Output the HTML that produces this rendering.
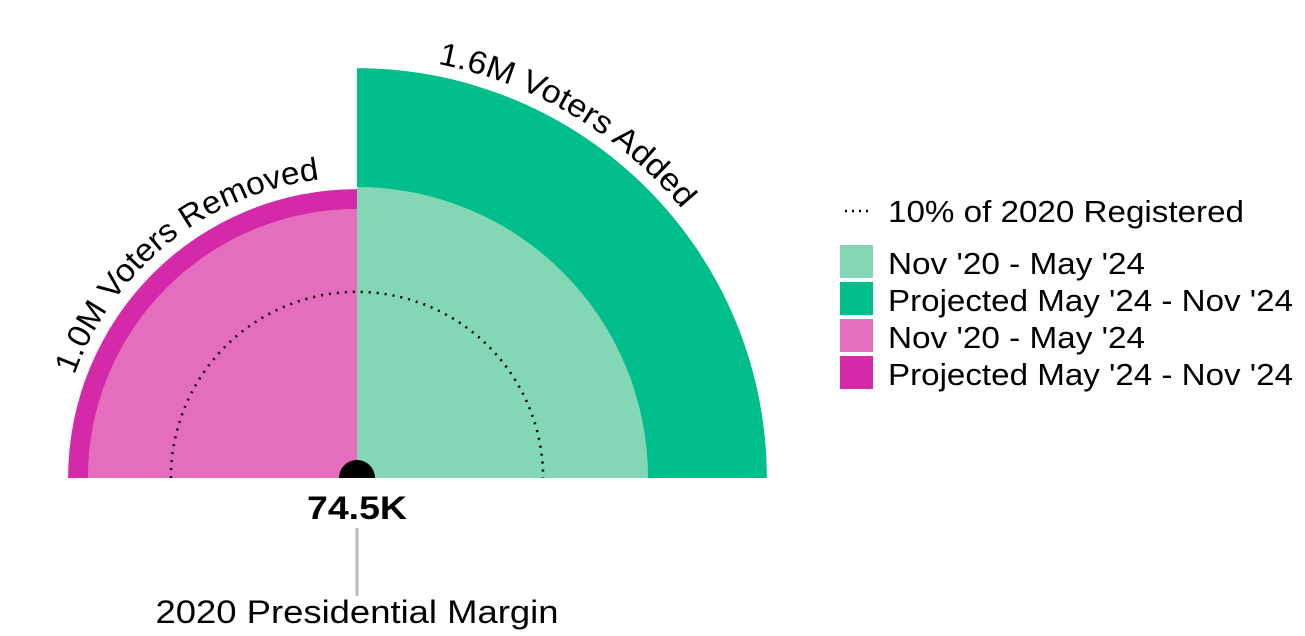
<!DOCTYPE html>
<html><head><meta charset="utf-8"><style>
body{margin:0;background:#fff;}
svg{display:block;font-family:"Liberation Sans",sans-serif;}
</style></head><body>
<svg id="chart" width="1305" height="636" viewBox="0 0 1305 636" xmlns="http://www.w3.org/2000/svg">
<g id="marks"></g>
<g id="labels"></g>
<g font-size="31">
 <line x1="845" y1="211" x2="872" y2="211" stroke="#000" stroke-width="2.5" stroke-dasharray="2,5"/>
 <text x="888" y="222" textLength="356" lengthAdjust="spacingAndGlyphs">10% of 2020 Registered</text>
 <rect x="840" y="245" width="33" height="33" fill="#84d7b5"/>
 <text x="888" y="274" textLength="257" lengthAdjust="spacingAndGlyphs">Nov '20 - May '24</text>
 <rect x="840" y="282" width="33" height="33" fill="#00bd8c"/>
 <text x="888" y="311" textLength="405" lengthAdjust="spacingAndGlyphs">Projected May '24 - Nov '24</text>
 <rect x="840" y="319" width="33" height="33" fill="#e46ebd"/>
 <text x="888" y="348" textLength="257" lengthAdjust="spacingAndGlyphs">Nov '20 - May '24</text>
 <rect x="840" y="356" width="33" height="33" fill="#d42aaa"/>
 <text x="888" y="385" textLength="405" lengthAdjust="spacingAndGlyphs">Projected May '24 - Nov '24</text>
</g>
<line x1="357" y1="528" x2="357" y2="596" stroke="#bbb" stroke-width="3"/>
<text x="357" y="519" font-size="32" font-weight="bold" text-anchor="middle" textLength="100" lengthAdjust="spacingAndGlyphs">74.5K</text>
<text x="357" y="623" font-size="32" text-anchor="middle" textLength="403" lengthAdjust="spacingAndGlyphs">2020 Presidential Margin</text>
</svg>
<script>
const addedValues = [0.807, 1.6];      // millions: Nov'20-May'24, projected total
const removedValues = [0.69, 0.795];
const addedColors = ["#84d7b5", "#00bd8c"];
const removedColors = ["#e46ebd", "#d42aaa"];
const refValue = 0.33;                 // 10% of 2020 registered
const addedLabel = "1.6M Voters Added";
const removedLabel = "1.0M Voters Removed";

const cx = 357, cy = 478, k = 324;
function r(v){ return k*Math.sqrt(v); }
function pt(rad, deg){ const a = deg*Math.PI/180; return [cx + rad*Math.sin(a), cy - rad*Math.cos(a)]; }
function wedge(rad, a0, a1){
  const p0 = pt(rad,a0), p1 = pt(rad,a1);
  return `M${cx},${cy} L${p0[0]},${p0[1]} A${rad},${rad} 0 0 1 ${p1[0]},${p1[1]} Z`;
}
const NS = "http://www.w3.org/2000/svg";
const marks = document.getElementById("marks");
for (let i = addedValues.length-1; i >= 0; i--) {
  const p = document.createElementNS(NS,"path");
  p.setAttribute("d", wedge(r(addedValues[i]), 0, 90));
  p.setAttribute("fill", addedColors[i]);
  
  
  marks.appendChild(p);
}
for (let i = removedValues.length-1; i >= 0; i--) {
  const p = document.createElementNS(NS,"path");
  p.setAttribute("d", wedge(r(removedValues[i]), -90, 0));
  p.setAttribute("fill", removedColors[i]);
  
  
  marks.appendChild(p);
}
const rr = r(refValue);
const ref = document.createElementNS(NS,"path");
ref.setAttribute("d", `M${cx-rr},${cy} A${rr},${rr} 0 0 1 ${cx+rr},${cy}`);
ref.setAttribute("fill","none"); ref.setAttribute("stroke","#000");
ref.setAttribute("stroke-width","2.5"); ref.setAttribute("stroke-dasharray","2,6");


marks.appendChild(ref);
const dot = document.createElementNS(NS,"path");
dot.setAttribute("d", `M${cx-18},${cy} A18,18 0 0 1 ${cx+18},${cy} Z`);
dot.setAttribute("fill","#000");


marks.appendChild(dot);

const labels = document.getElementById("labels");
function arcLabel(id, rad, a0, a1, len, txt, name){
  const p0 = pt(rad,a0), p1 = pt(rad,a1);
  const p = document.createElementNS(NS,"path");
  p.setAttribute("id", id);
  p.setAttribute("d", `M${p0[0]},${p0[1]} A${rad},${rad} 0 0 1 ${p1[0]},${p1[1]}`);
  p.setAttribute("fill","none");
  labels.appendChild(p);
  const t = document.createElementNS(NS,"text");
  t.setAttribute("font-size","32");
  
  
  const tp = document.createElementNS(NS,"textPath");
  tp.setAttribute("href","#"+id);
  tp.setAttribute("textLength", len);
  tp.setAttribute("lengthAdjust", "spacingAndGlyphs");
  tp.textContent = txt;
  t.appendChild(tp);
  labels.appendChild(t);
}
arcLabel("arcAdd", r(addedValues[1])+12, 11, 80, 290, addedLabel, "added-total-label");
arcLabel("arcRem", r(removedValues[1])+12, -70, 0, 330, removedLabel, "removed-total-label");
</script>
</body></html>
